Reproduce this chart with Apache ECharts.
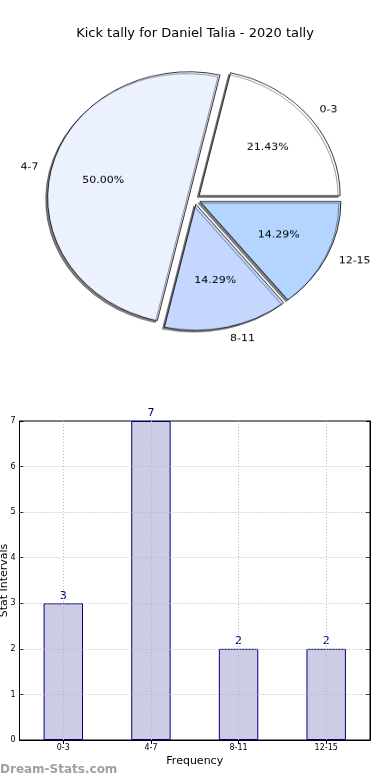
<!DOCTYPE html>
<html><head><meta charset="utf-8">
<script src="https://cdn.jsdelivr.net/npm/echarts@6/dist/echarts.min.js"></script>
<style>
html,body{margin:0;padding:0;background:#fff;}
#bar{position:absolute;left:0;top:0;width:390px;height:780px;}
#pie{position:absolute;left:0;top:0;width:390px;height:400px;transform-origin:194.5px 199px;transform:scaleY(0.894);}
</style></head><body>
<div id="bar"></div><div id="pie"></div>
<script>
const categories = ['0-3', '4-7', '8-11', '12-15'];
const counts = [3, 7, 2, 2];
const pieColors = ['#ffffff', '#ebf1ff', '#c5d7ff', '#b4d5ff'];
const yTicks = [0, 1, 2, 3, 4, 5, 6, 7];
const titleText = 'Kick tally for Daniel Talia - 2020 tally';
const watermark = 'Dream-Stats.com';

const total = counts.reduce((a, b) => a + b, 0);
const FONT = 'DejaVu Sans';
const R = 141;

const sliceStyle = (c) => ({color: c, borderColor: '#000', borderWidth: 0.8,
  shadowBlur: 0, shadowOffsetX: -2, shadowOffsetY: 2, shadowColor: 'rgba(0,0,0,0.5)'});
const clearStyle = {color: 'rgba(0,0,0,0)', borderWidth: 0, shadowColor: 'rgba(0,0,0,0)'};

const pieMain = categories.map((c, i) => ({name: c, value: counts[i], selected: true,
  itemStyle: sliceStyle(pieColors[i]), select: {itemStyle: sliceStyle(pieColors[i])}}));
const pieInner = categories.map((c, i) => ({name: c, value: counts[i], selected: true,
  itemStyle: clearStyle, select: {itemStyle: clearStyle}}));

const pie = echarts.init(document.getElementById('pie'), null, {renderer: 'canvas'});
pie.setOption({
  animation: false,
  series: [
    {type: 'pie', center: [194.5, 199], radius: [0, R], startAngle: 0, clockwise: false,
     selectedMode: 'multiple', selectedOffset: 6, avoidLabelOverlap: false,
     emphasis: {disabled: true},
     label: {show: true, position: 'outside', color: '#000', fontSize: 11, fontFamily: FONT, distanceToLabelLine: 0},
     labelLine: {show: false, length: 13, length2: 0},
     data: pieMain},
    {type: 'pie', center: [194.5, 199], radius: [0.2 * R, R], startAngle: 0, clockwise: false,
     selectedMode: 'multiple', selectedOffset: 6, avoidLabelOverlap: false, silent: true,
     emphasis: {disabled: true},
     label: {show: true, position: 'inner', color: '#000', fontSize: 11, fontFamily: FONT,
       formatter: p => (p.value / total * 100).toFixed(2) + '%'},
     labelLine: {show: false},
     data: pieInner}
  ]
});

const bar = echarts.init(document.getElementById('bar'), null, {renderer: 'canvas'});
const axisBlack = {lineStyle: {color: '#000', width: 1}};
bar.setOption({
  animation: false,
  title: {text: titleText, left: 'center', top: 22,
    textStyle: {fontSize: 13, fontWeight: 'normal', color: '#000', fontFamily: FONT}},
  graphic: [{type: 'text', left: 0, top: 764,
    style: {text: watermark, fill: '#a0a0a0', font: 'bold 12px "DejaVu Sans"'}}],
  grid: {left: 19.5, right: 20, top: 421, bottom: 40, show: true, borderColor: '#000', borderWidth: 1,
    containLabel: false, outerBoundsMode: 'none'},
  xAxis: [
    {type: 'category', data: categories, position: 'bottom', axisLine: axisBlack,
     axisTick: {show: true, inside: true, alignWithLabel: true, length: 4, lineStyle: {color: '#000'}},
     axisLabel: {fontSize: 8, color: '#000', margin: 4, fontFamily: FONT},
     splitLine: {show: false},
     name: 'Frequency', nameLocation: 'middle', nameGap: 16, nameMoveOverlap: false,
     nameTextStyle: {fontSize: 11, color: '#000', fontFamily: FONT}},
    {type: 'category', data: categories, position: 'top', axisLine: axisBlack,
     axisTick: {show: true, inside: true, alignWithLabel: true, length: 4, lineStyle: {color: '#000'}},
     axisLabel: {show: false}, splitLine: {show: false}}
  ],
  yAxis: [
    {type: 'value', min: yTicks[0], max: yTicks[yTicks.length - 1], interval: 1, axisLine: {show: true, lineStyle: {color: '#000'}},
     axisTick: {show: true, inside: true, length: 4, lineStyle: {color: '#000'}},
     axisLabel: {fontSize: 8, color: '#000', margin: 4, fontFamily: FONT},
     splitLine: {show: false},
     name: 'Stat Intervals', nameLocation: 'middle', nameGap: 10, nameRotate: 90, nameMoveOverlap: false,
     nameTextStyle: {fontSize: 11, color: '#000', fontFamily: FONT}},
    {type: 'value', position: 'right', min: yTicks[0], max: yTicks[yTicks.length - 1], interval: 1,
     axisLine: {show: true, lineStyle: {color: '#000'}},
     axisTick: {show: true, inside: true, length: 4, lineStyle: {color: '#000'}},
     axisLabel: {show: false}, splitLine: {show: false}}
  ],
  series: [{
    type: 'bar', data: counts, barWidth: '45%', xAxisIndex: 0, yAxisIndex: 0,
    itemStyle: {color: '#ccccE4', borderColor: '#000080', borderWidth: 1},
    label: {show: true, position: 'top', color: '#000080', fontSize: 11, distance: 2, fontFamily: FONT},
    markLine: {silent: true, symbol: 'none', label: {show: false},
      lineStyle: {type: [1, 2], color: '#b8b8b8', width: 1},
      data: categories.map(c => ({xAxis: c})).concat(yTicks.slice(1, -1).map(v => ({yAxis: v})))}
  }]
});
</script>
</body></html>
